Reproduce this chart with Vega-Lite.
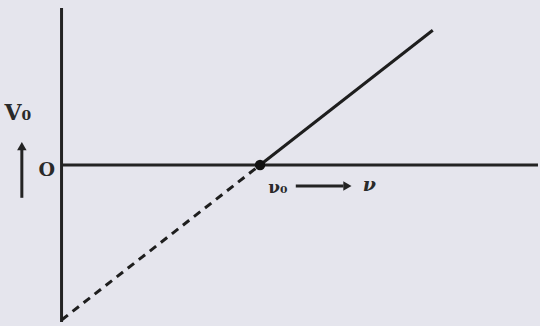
{
  "$schema": "https://vega.github.io/schema/vega-lite/v6.json",
  "width": 540,
  "height": 326,
  "padding": 0,
  "autosize": {"type": "fit", "contains": "padding"},
  "background": "#e5e5ed",
  "config": {"view": {"stroke": null}},
  "datasets": {
    "axes": [
      {"name": "yaxis", "x": 0, "y": 3.925, "x2": 0, "y2": -3.925},
      {"name": "xaxis", "x": 0, "y": 0, "x2": 12.0, "y2": 0}
    ],
    "solid": [
      {"nu": 5.0, "v": 0.0},
      {"nu": 9.35, "v": 3.37}
    ],
    "dashed": [
      {"nu": 0.0, "v": -3.875},
      {"nu": 5.0, "v": 0.0}
    ],
    "dot": [{"nu": 5.0, "v": 0.0}],
    "arrows": [
      {"name": "up", "x": -1.0, "y": -0.82, "x2": -1.0, "y2": 0.4},
      {"name": "right", "x": 5.9, "y": -0.525, "x2": 7.1, "y2": -0.525}
    ],
    "heads": [
      {"name": "up", "x": -1.0, "y": 0.47, "shape": "triangle-up"},
      {"name": "right", "x": 7.2, "y": -0.525, "shape": "triangle-right"}
    ],
    "labels": [
      {"text": "V₀", "x": -1.1, "y": 1.3, "size": 22},
      {"text": "O", "x": -0.37, "y": -0.13, "size": 19},
      {"text": "ν₀", "x": 5.45, "y": -0.57, "size": 17}
    ],
    "italic": [
      {"text": "ν", "x": 7.75, "y": -0.5, "size": 19}
    ]
  },
  "layer": [
    {
      "data": {"name": "axes"},
      "mark": {"type": "rule", "color": "#232323", "strokeWidth": 3},
      "encoding": {
        "x": {"field": "x", "type": "quantitative", "scale": {"domain": [-1.55, 11.95], "nice": false, "zero": false}, "axis": null},
        "y": {"field": "y", "type": "quantitative", "scale": {"domain": [-4.025, 4.125], "nice": false, "zero": false}, "axis": null},
        "x2": {"field": "x2"},
        "y2": {"field": "y2"}
      }
    },
    {
      "data": {"name": "solid"},
      "mark": {"type": "line", "color": "#1e1e1e", "strokeWidth": 3},
      "encoding": {
        "x": {"field": "nu", "type": "quantitative"},
        "y": {"field": "v", "type": "quantitative"}
      }
    },
    {
      "data": {"name": "dashed"},
      "mark": {"type": "line", "color": "#1e1e1e", "strokeWidth": 3, "strokeDash": [8, 6]},
      "encoding": {
        "x": {"field": "nu", "type": "quantitative"},
        "y": {"field": "v", "type": "quantitative"}
      }
    },
    {
      "data": {"name": "dot"},
      "mark": {"type": "point", "filled": true, "color": "#111111", "size": 110, "opacity": 1},
      "encoding": {
        "x": {"field": "nu", "type": "quantitative"},
        "y": {"field": "v", "type": "quantitative"}
      }
    },
    {
      "data": {"name": "arrows"},
      "mark": {"type": "rule", "color": "#232323", "strokeWidth": 3},
      "encoding": {
        "x": {"field": "x", "type": "quantitative"},
        "y": {"field": "y", "type": "quantitative"},
        "x2": {"field": "x2"},
        "y2": {"field": "y2"}
      }
    },
    {
      "data": {"name": "heads"},
      "mark": {"type": "point", "filled": true, "color": "#232323", "size": 90, "opacity": 1},
      "encoding": {
        "x": {"field": "x", "type": "quantitative"},
        "y": {"field": "y", "type": "quantitative"},
        "shape": {"field": "shape", "type": "nominal", "scale": null}
      }
    },
    {
      "data": {"name": "labels"},
      "mark": {"type": "text", "font": "DejaVu Serif", "fontWeight": "bold", "color": "#2a2a2a", "align": "center", "baseline": "middle"},
      "encoding": {
        "x": {"field": "x", "type": "quantitative"},
        "y": {"field": "y", "type": "quantitative"},
        "text": {"field": "text"},
        "size": {"field": "size", "type": "quantitative", "scale": null}
      }
    },
    {
      "data": {"name": "italic"},
      "mark": {"type": "text", "font": "DejaVu Serif", "fontWeight": "bold", "fontStyle": "italic", "color": "#2a2a2a", "align": "center", "baseline": "middle"},
      "encoding": {
        "x": {"field": "x", "type": "quantitative"},
        "y": {"field": "y", "type": "quantitative"},
        "text": {"field": "text"},
        "size": {"field": "size", "type": "quantitative", "scale": null}
      }
    }
  ]
}
